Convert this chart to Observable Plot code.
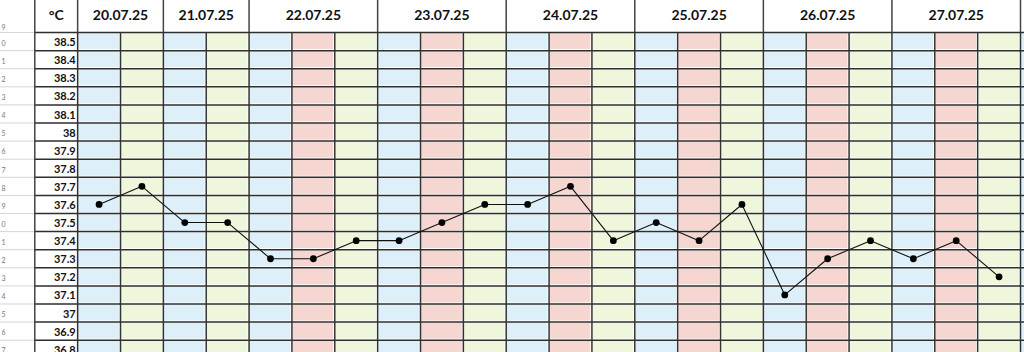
<!DOCTYPE html>
<html>
<head>
<meta charset="utf-8">
<script src="https://cdn.jsdelivr.net/npm/d3@7"></script>
<script src="https://cdn.jsdelivr.net/npm/@observablehq/plot@0.6"></script>
<style>
  html, body { margin: 0; padding: 0; background: #fff; }
  #chart svg { display: block; }
</style>
</head>
<body>
<div id="chart"></div>
<script>
// ---- data ----
const dates = ["20.07.25", "21.07.25", "22.07.25", "23.07.25", "24.07.25", "25.07.25", "26.07.25", "27.07.25"];
const daySlots = [
  ["morning", "evening"],
  ["morning", "evening"],
  ["morning", "noon", "evening"],
  ["morning", "noon", "evening"],
  ["morning", "noon", "evening"],
  ["morning", "noon", "evening"],
  ["morning", "noon", "evening"],
  ["morning", "noon", "evening"]
];
const trailingSlots = ["morning"]; // next day's column, cut off at the right edge
const temps = [37.6, 37.7, 37.5, 37.5, 37.3, 37.3, 37.4, 37.4, 37.5, 37.6, 37.6, 37.7, 37.4, 37.5, 37.4, 37.6, 37.1, 37.3, 37.4, 37.3, 37.4, 37.2];
const tempTicks = [38.5, 38.4, 38.3, 38.2, 38.1, 38, 37.9, 37.8, 37.7, 37.6, 37.5, 37.4, 37.3, 37.2, 37.1, 37, 36.9, 36.8];
const tempLabels = ["38.5", "38.4", "38.3", "38.2", "38.1", "38", "37.9", "37.8", "37.7", "37.6", "37.5", "37.4", "37.3", "37.2", "37.1", "37", "36.9", "36.8"];
const rowNumbers = ["0", "1", "2", "3", "4", "5", "6", "7", "8", "9", "0", "1", "2", "3", "4", "5", "6", "7"];
const headerRowNumber = "9";
const unitLabel = "°C";
const slotColors = {morning: "#ddf0fa", noon: "#f5d6d0", evening: "#eef6dc"};

// ---- derived tables ----
const half = 0.05;
const gridTop = tempTicks[0] + half;            // top of the first temperature row
const headerTop = gridTop + 0.177;              // top of the header row
const gridBottom = tempTicks[tempTicks.length - 1] - half;

const columns = [];
const dayBounds = [0];
daySlots.forEach((slots, d) => {
  slots.forEach(s => columns.push({i: columns.length, day: d, slot: s}));
  dayBounds.push(columns.length);
});
const nData = columns.length;
trailingSlots.forEach(s => columns.push({i: columns.length, day: null, slot: s}));

const cells = [];
columns.forEach(c => tempTicks.forEach(t => cells.push({i: c.i, t, slot: c.slot})));

const dayHeaders = dates.map((d, k) => ({label: d, x: (dayBounds[k] + dayBounds[k + 1]) / 2}));
const rowBounds = [gridTop, ...tempTicks.map(t => t - half)];
const colBounds = d3.range(0, columns.length + 1);
const points = temps.map((t, i) => ({x: i + 0.5, t}));
const labels = tempTicks.map((t, k) => ({t, label: tempLabels[k], rn: rowNumbers[k]}));
const headerMid = (gridTop + headerTop) / 2;

const font = "Lato, 'Open Sans', sans-serif";

const chart = Plot.plot({
  width: 1024,
  height: 352,
  marginLeft: 0,
  marginRight: 4,
  marginTop: 0,
  marginBottom: 0,
  x: {domain: [-1.8, nData], axis: null},
  y: {domain: [36.782, headerTop], axis: null},
  style: {fontFamily: font, background: "#fff"},
  marks: [
    // coloured cells
    Plot.rect(cells, {
      x1: d => d.i, x2: d => d.i + 1,
      y1: d => d.t - half, y2: d => d.t + half,
      fill: d => slotColors[d.slot], inset: 1.1
    }),
    // gutter (row number column) light grid
    Plot.ruleY(rowBounds, {x1: -1.8, x2: -1, stroke: "#d6d6d6", strokeWidth: 1}),
    // horizontal grid lines
    Plot.ruleY(rowBounds, {x1: -1, x2: columns.length, stroke: "#2e2e2e", strokeWidth: 1.5}),
    // vertical column lines in the grid
    Plot.ruleX(colBounds, {y1: gridBottom, y2: gridTop, stroke: "#333", strokeWidth: 1.5}),
    // day group lines through the header
    Plot.ruleX(dayBounds, {y1: gridTop, y2: headerTop, stroke: "#444", strokeWidth: 1.5}),
    // left edge of the label column
    Plot.ruleX([-1], {y1: gridBottom, y2: headerTop, stroke: "#444", strokeWidth: 1.5}),
    // header texts
    Plot.text(dayHeaders, {
      x: "x", y: () => headerMid, text: "label",
      fontSize: 14, fontWeight: "bold", fill: "#111", dy: -1
    }),
    Plot.text([unitLabel], {
      x: () => -0.5, y: () => headerMid, text: d => d,
      fontSize: 14, fontWeight: "bold", fill: "#111", dy: -1
    }),
    // temperature labels
    Plot.text(labels, {
      x: () => 0, y: "t", text: "label",
      textAnchor: "end", dx: -2, dy: 1,
      fontSize: 11, fontWeight: "bold", fill: "#111"
    }),
    // row numbers (cut-off spreadsheet row headers)
    Plot.text(labels, {
      x: () => -1.8, y: "t", text: "rn",
      textAnchor: "start", dx: 1, dy: 2,
      fontSize: 7, fill: "#777"
    }),
    Plot.text([headerRowNumber], {
      x: () => -1.8, y: () => headerMid, text: d => d,
      textAnchor: "start", dx: 1, dy: 11,
      fontSize: 7, fill: "#777"
    }),
    // temperature curve
    Plot.line(points, {x: "x", y: "t", stroke: "#111", strokeWidth: 1.1}),
    Plot.dot(points, {x: "x", y: "t", r: 3.4, fill: "#000", stroke: "none"})
  ]
});

document.getElementById("chart").appendChild(chart);
</script>
</body>
</html>
